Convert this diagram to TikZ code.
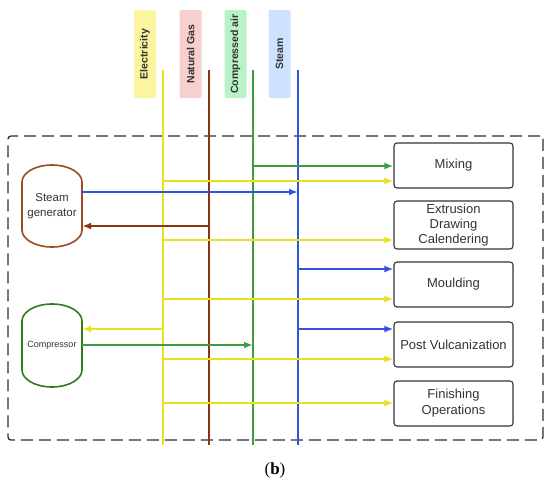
\documentclass[tikz,border=0pt]{standalone}
\usepackage{fontspec}
\setmainfont{Liberation Sans}
\newfontfamily\capfont{Liberation Serif}
\usetikzlibrary{arrows.meta}
\definecolor{ylw}{HTML}{E8E21E}
\definecolor{brn}{HTML}{8B3410}
\definecolor{grn}{HTML}{3E9E3E}
\definecolor{blu}{HTML}{3352E0}
\definecolor{txt}{HTML}{333333}
\definecolor{elecfill}{HTML}{FBF5A0}
\definecolor{gasfill}{HTML}{F8CFCF}
\definecolor{airfill}{HTML}{B9F2C8}
\definecolor{stmfill}{HTML}{CCE2FF}
\definecolor{sgline}{HTML}{9A4A22}
\definecolor{cpline}{HTML}{2F7A1E}
\begin{document}
\begin{tikzpicture}[x=1pt,y=-1pt,
  lab/.style={rotate=90, rounded corners=2pt, minimum width=88pt, minimum height=22pt, inner sep=0pt,
    font=\bfseries\fontsize{10.5}{12}\selectfont, text=txt},
  proc/.style={draw=txt, line width=1.1pt, rounded corners=3pt, minimum width=119pt, minimum height=45pt,
    align=center, font=\fontsize{13}{15}\selectfont, text=txt, inner sep=0pt},
  feed/.style={line width=2pt},
  arr/.style={line width=2pt, -{Latex[length=9pt,width=7pt]}},
  tank/.style={line width=1.6pt}]
\useasboundingbox (0,0) rectangle (550,488);

% system boundary
\node[draw=txt!90!black, dash pattern=on 12pt off 6pt, line width=1.3pt, rounded corners=3pt,
  minimum width=535pt, minimum height=304pt, inner sep=0pt] (sys) at (275.5,288) {};

% carrier labels
\node[lab, fill=elecfill] (elec) at (145,54) {Electricity};
\node[lab, fill=gasfill] (gas) at (190.5,54) {Natural Gas};
\node[lab, fill=airfill] (air) at (235.5,54) {Compressed air};
\node[lab, fill=stmfill] (stm) at (279.5,54) {Steam};

% carrier lines
\coordinate (eT) at (163,70); \coordinate (eB) at (163,445);
\coordinate (gT) at (209,70); \coordinate (gB) at (209,445);
\coordinate (aT) at (253,70); \coordinate (aB) at (253,445);
\coordinate (sT) at (298,70); \coordinate (sB) at (298,445);
\draw[feed, ylw] (eT) -- (eB);
\draw[feed, brn] (gT) -- (gB);
\draw[feed, grn] (aT) -- (aB);
\draw[feed, blu] (sT) -- (sB);

% process boxes
\node[proc] (mix) at (453.5,165.5) {Mixing};
\node[proc, minimum height=48pt] (ext) at (453.5,225) {Extrusion\\Drawing\\Calendering};
\node[proc] (mould) at (453.5,284.5) {Moulding};
\node[proc] (post) at (453.5,344.5) {Post Vulcanization};
\node[proc, font=\fontsize{13}{16}\selectfont] (fin) at (453.5,403.5) {Finishing\\Operations};

% steam generator and compressor
\node[minimum width=60pt, minimum height=82pt, inner sep=0pt, align=center, text=txt,
  font=\fontsize{11.5}{15}\selectfont] (sg) at (52,206) {Steam\\generator};
\draw[tank, sgline] (22,182) .. controls (22,172.6) and (35.5,165) .. (52,165)
  .. controls (68.5,165) and (82,172.6) .. (82,182) -- (82,230)
  .. controls (82,239.4) and (68.5,247) .. (52,247)
  .. controls (35.5,247) and (22,239.4) .. (22,230) -- cycle;
\node[minimum width=60pt, minimum height=83pt, inner sep=0pt, text=txt,
  font=\fontsize{9}{11}\selectfont] (comp) at (52,345.5) {Compressor};
\draw[tank, cpline] (22,321) .. controls (22,311.6) and (35.5,304) .. (52,304)
  .. controls (68.5,304) and (82,311.6) .. (82,321) -- (82,370)
  .. controls (82,379.4) and (68.5,387) .. (52,387)
  .. controls (35.5,387) and (22,379.4) .. (22,370) -- cycle;

% supply connections
\coordinate (a1) at (253,166);
\coordinate (e1) at (163,181);
\coordinate (sgOut) at (82,192);
\coordinate (g1) at (209,226);
\coordinate (e2) at (163,240);
\coordinate (s1) at (298,269);
\coordinate (e3) at (163,299);
\coordinate (e4) at (163,329);
\coordinate (cOut) at (82,345);
\coordinate (s2) at (298,329);
\coordinate (e5) at (163,359);
\coordinate (e6) at (163,403);

\draw[arr, grn] (a1) -- (a1 -| mix.west);
\draw[arr, ylw] (e1) -- (e1 -| mix.west);
\draw[arr, blu] (sgOut) -- (sgOut -| sT);
\draw[arr, brn] (g1) -- (g1 -| sg.east);
\draw[arr, ylw] (e2) -- (e2 -| ext.west);
\draw[arr, blu] (s1) -- (s1 -| mould.west);
\draw[arr, ylw] (e3) -- (e3 -| mould.west);
\draw[arr, ylw] (e4) -- (e4 -| comp.east);
\draw[arr, grn] (cOut) -- (cOut -| aT);
\draw[arr, blu] (s2) -- (s2 -| post.west);
\draw[arr, ylw] (e5) -- (e5 -| post.west);
\draw[arr, ylw] (e6) -- (e6 -| fin.west);

% caption
\node[font=\capfont\fontsize{17}{19}\selectfont, text=black] (cap) at (275,470) {(\textbf{b})};
\end{tikzpicture}
\end{document}
